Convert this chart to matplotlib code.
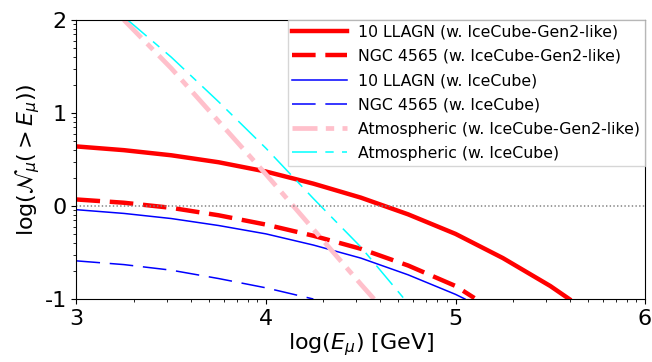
import numpy as np
import matplotlib
matplotlib.use('Agg')
import matplotlib.pyplot as plt
from matplotlib.ticker import FuncFormatter

plt.rcParams['lines.scale_dashes'] = False

# values, in log10 units (x: log E_mu [GeV], y: log N)
llagn_gen2_x = [3.0, 3.25, 3.5, 3.75, 4.0, 4.25, 4.5, 4.75, 5.0, 5.25, 5.5, 5.6]
llagn_gen2_y = [0.64, 0.60, 0.545, 0.47, 0.37, 0.24, 0.09, -0.09, -0.30, -0.56, -0.86, -1.0]

ngc_gen2_x = [3.0, 3.25, 3.5, 3.75, 4.0, 4.25, 4.5, 4.75, 5.0, 5.1]
ngc_gen2_y = [0.07, 0.035, -0.02, -0.10, -0.20, -0.32, -0.46, -0.64, -0.86, -0.99]

llagn_ic_x = [3.0, 3.25, 3.5, 3.75, 4.0, 4.25, 4.5, 4.75, 5.0, 5.05]
llagn_ic_y = [-0.04, -0.08, -0.135, -0.21, -0.30, -0.42, -0.56, -0.74, -0.95, -1.0]

ngc_ic_x = [3.0, 3.25, 3.5, 3.75, 4.0, 4.25]
ngc_ic_y = [-0.59, -0.63, -0.69, -0.78, -0.88, -1.0]

atm_gen2_x = [3.25, 3.5, 3.75, 4.0, 4.25, 4.5, 4.57]
atm_gen2_y = [2.0, 1.48, 0.91, 0.34, -0.25, -0.84, -1.0]

atm_ic_x = [3.27, 3.5, 3.75, 4.0, 4.25, 4.5, 4.73]
atm_ic_y = [2.0, 1.60, 1.12, 0.62, 0.08, -0.44, -1.0]

fig = plt.figure(figsize=(6.52, 3.62), dpi=100)
ax = fig.add_axes([0.1173, 0.174, 0.872, 0.771])


def p(v):
    return 10 ** np.array(v)


ax.plot(p(llagn_gen2_x), p(llagn_gen2_y), color='red', lw=3.2,
        label='10 LLAGN (w. IceCube-Gen2-like)')
ax.plot(p(ngc_gen2_x), p(ngc_gen2_y), color='red', lw=3.2, dashes=(17, 7),
        label='NGC 4565 (w. IceCube-Gen2-like)')
ax.plot(p(llagn_ic_x), p(llagn_ic_y), color='blue', lw=1.1,
        label='10 LLAGN (w. IceCube)')
ax.plot(p(ngc_ic_x), p(ngc_ic_y), color='blue', lw=1.1, dashes=(17, 7),
        label='NGC 4565 (w. IceCube)')
ax.plot(p(atm_gen2_x), p(atm_gen2_y), color='pink', lw=3.4,
        dashes=(18, 6, 6, 6), label='Atmospheric (w. IceCube-Gen2-like)')
ax.plot(p(atm_ic_x), p(atm_ic_y), color='cyan', lw=1.1,
        dashes=(18, 6, 6, 6), label='Atmospheric (w. IceCube)')
ax.axhline(1, color='grey', ls=':', lw=1.1)

ax.set_xscale('log')
ax.set_yscale('log')
ax.set_xlim(1e3, 1e6)
ax.set_ylim(1e-1, 1e2)
fmt = FuncFormatter(lambda v, pos: '%d' % round(np.log10(v)))
ax.xaxis.set_major_formatter(fmt)
ax.yaxis.set_major_formatter(fmt)
ax.tick_params(labelsize=16)
ax.set_xlabel(r'log($E_\mu$) [GeV]', fontsize=16, labelpad=2)
ax.set_ylabel(r'log($\mathcal{N}_\mu(>E_\mu)$)', fontsize=16, labelpad=2)

leg = ax.legend(loc='upper right', fontsize=11.3, borderaxespad=0,
                fancybox=False, borderpad=0.3, handlelength=3.5,
                handletextpad=0.7, labelspacing=0.59)
leg.get_frame().set_edgecolor('#cccccc')

fig.savefig('out.png', dpi=100)
